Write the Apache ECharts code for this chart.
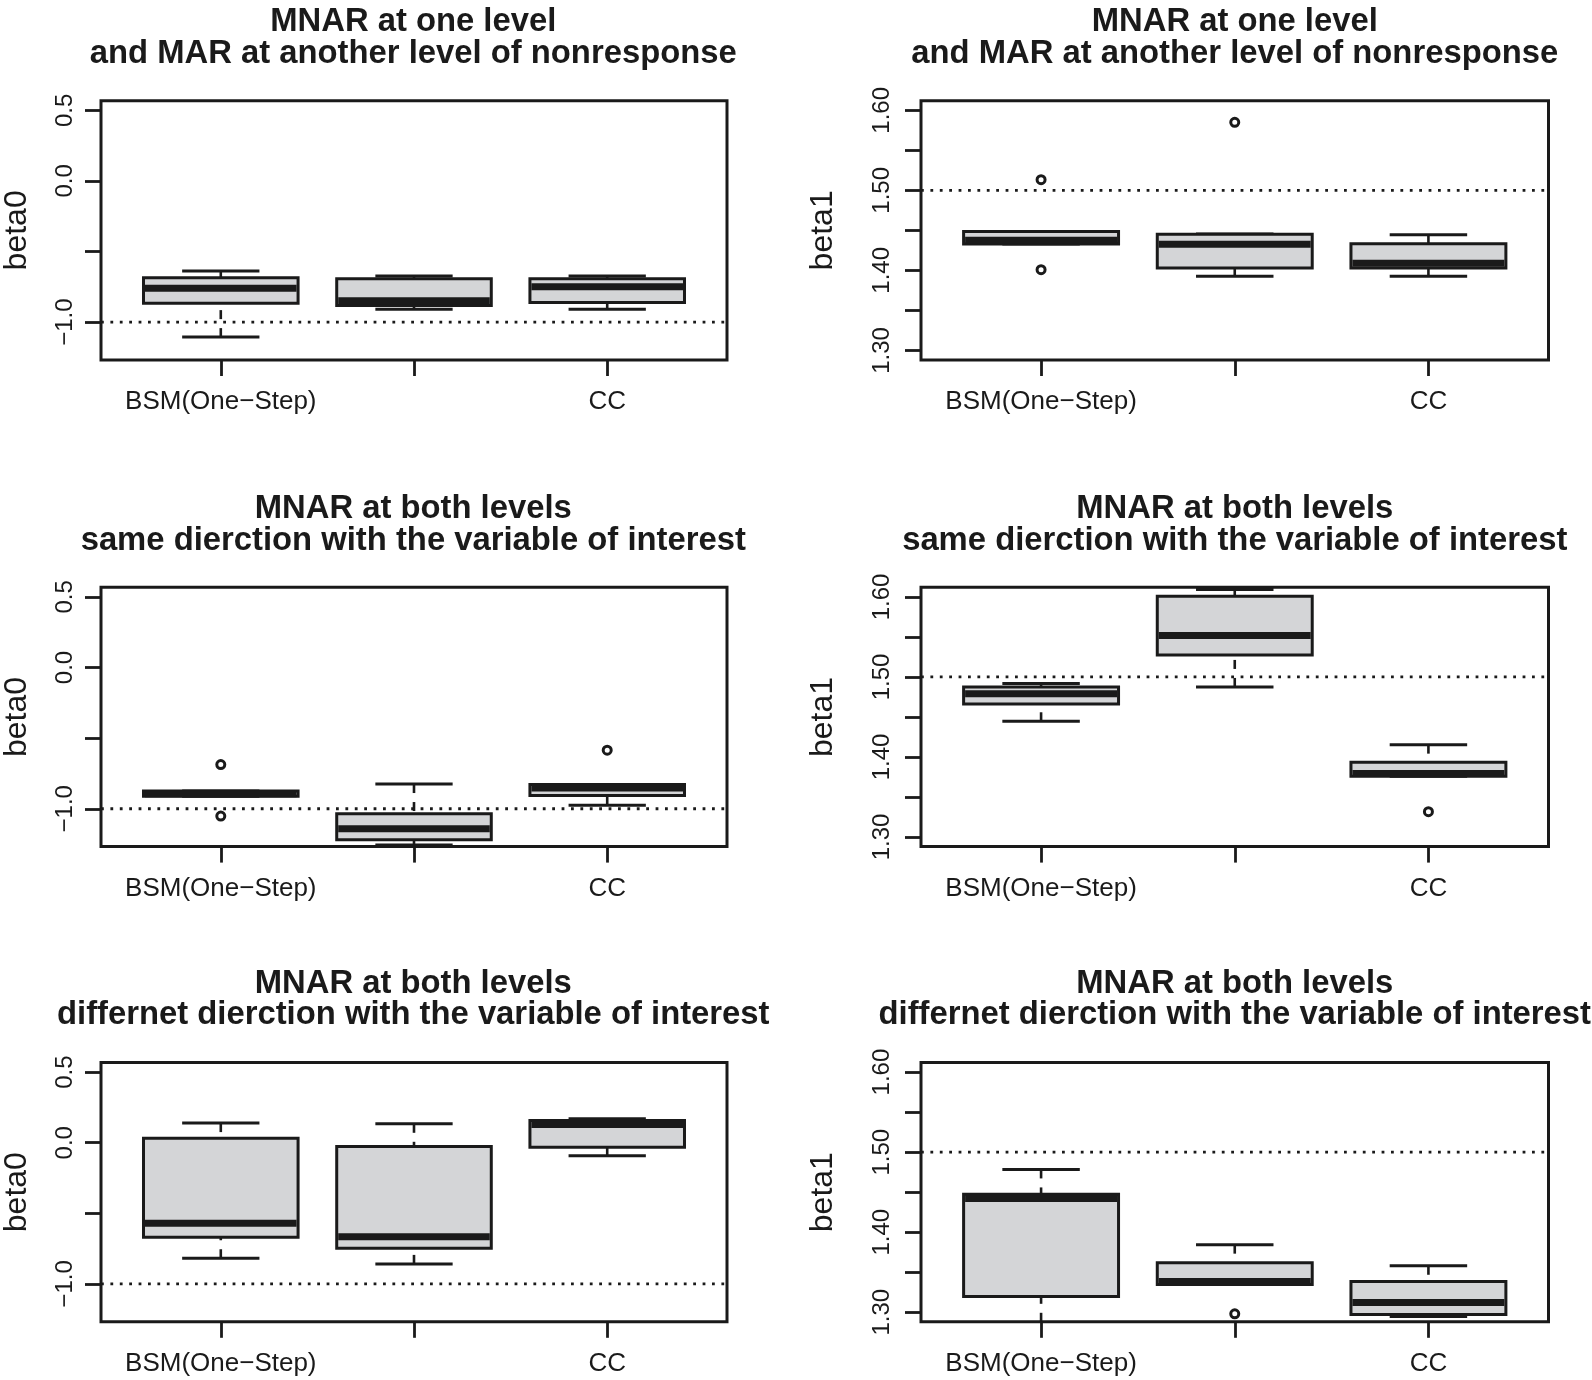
<!DOCTYPE html>
<html>
<head>
<meta charset="utf-8">
<script src="https://cdn.jsdelivr.net/npm/echarts@6/dist/echarts.min.js"></script>
<style>
html, body { margin: 0; padding: 0; background: #ffffff; }
#chart { width: 1592px; height: 1380px; }
</style>
</head>
<body>
<div id="chart"></div>
<script>
// ---------------- data ----------------
const categories = ['BSM(One\u2212Step)', '', 'CC'];
const categoryPositions = [1, 2, 3];

const titleOneLevel = 'MNAR at one level\nand MAR at another level of nonresponse';
const titleSameDir = 'MNAR at both levels\nsame dierction with the variable of interest';
const titleDiffDir = 'MNAR at both levels\ndiffernet dierction with the variable of interest';

// each box: [lower whisker, Q1, median, Q3, upper whisker]
const panel1Stats = [
  [-1.106, -0.866, -0.760, -0.685, -0.637],
  [-0.908, -0.882, -0.849, -0.692, -0.673],
  [-0.908, -0.861, -0.750, -0.692, -0.673]
];
const panel1Outliers = [];

const panel2Stats = [
  [1.4330, 1.4330, 1.4375, 1.4487, 1.4487],
  [1.3925, 1.4029, 1.4325, 1.4450, 1.4454],
  [1.3925, 1.4029, 1.4090, 1.4333, 1.4446]
];
const panel2Outliers = [[1, 1.5133], [1, 1.4008], [2, 1.5850]];

const panel3Stats = [
  [-0.912, -0.912, -0.893, -0.874, -0.874],
  [-1.256, -1.220, -1.142, -1.036, -0.825],
  [-0.976, -0.906, -0.853, -0.829, -0.829]
];
const panel3Outliers = [[1, -0.687], [1, -1.052], [3, -0.585]];

const panel4Stats = [
  [1.4446, 1.4663, 1.4790, 1.4875, 1.4917],
  [1.4875, 1.5275, 1.5517, 1.6008, 1.6092],
  [1.3760, 1.3760, 1.3792, 1.3933, 1.4154]
];
const panel4Outliers = [[3, 1.3317]];

const panel5Stats = [
  [-0.818, -0.669, -0.570, 0.032, 0.139],
  [-0.858, -0.747, -0.665, -0.027, 0.134],
  [-0.093, -0.032, 0.129, 0.158, 0.169]
];
const panel5Outliers = [];

const panel6Stats = [
  [1.2700, 1.3196, 1.4420, 1.4475, 1.4784],
  [1.3347, 1.3347, 1.3384, 1.3618, 1.3844],
  [1.2946, 1.2971, 1.3121, 1.3384, 1.3580]
];
const panel6Outliers = [[2, 1.2980]];

const beta0Range = [-1.268, 0.568];
const beta0Ticks = [-1.0, -0.5, 0.0, 0.5];
const beta0Labels = [-1.0, 0.0, 0.5];
const beta0Reference = -1.0;

const beta1Range = [1.288, 1.612];
const beta1Ticks = [1.30, 1.35, 1.40, 1.45, 1.50, 1.55, 1.60];
const beta1Labels = [1.30, 1.40, 1.50, 1.60];
const beta1Reference = 1.5;

const xRange = [0.38, 3.62];

// ---------------- layout / style ----------------
const FONT = "'Liberation Sans', Arial, Helvetica, sans-serif";
const INK = '#1a1a1a';
const FILL = '#d4d5d7';
const colLeft = [99.5, 921];
const colWidth = 627.5;
const rowTop = [100.7, 587.3, 1062.5];
const rowHeight = 259.3;
const titleTop = [6.5, 493.5, 968.2];
const labelMargin = [24, 27];
const nameGap = [68, 82];

const panels = [
  { stats: panel1Stats, outliers: panel1Outliers, title: titleOneLevel, beta: 0, row: 0, col: 0 },
  { stats: panel2Stats, outliers: panel2Outliers, title: titleOneLevel, beta: 1, row: 0, col: 1 },
  { stats: panel3Stats, outliers: panel3Outliers, title: titleSameDir, beta: 0, row: 1, col: 0 },
  { stats: panel4Stats, outliers: panel4Outliers, title: titleSameDir, beta: 1, row: 1, col: 1 },
  { stats: panel5Stats, outliers: panel5Outliers, title: titleDiffDir, beta: 0, row: 2, col: 0 },
  { stats: panel6Stats, outliers: panel6Outliers, title: titleDiffDir, beta: 1, row: 2, col: 1 }
];

function fmtBeta0(v) {
  const s = Math.abs(v).toFixed(1);
  return v < -1e-9 ? '\u2212' + s : s;
}
function fmtBeta1(v) { return v.toFixed(2); }

function boxRenderer(params, api) {
  const x = api.value(0);
  const lo = api.value(1), q1 = api.value(2), med = api.value(3), q3 = api.value(4), hi = api.value(5);
  const cs = params.coordSys;
  const yTop = cs.y, yBot = cs.y + cs.height;
  const clampY = y => Math.max(yTop, Math.min(yBot, y));
  const pq3 = api.coord([x - 0.4, q3]);
  const pq1 = api.coord([x + 0.4, q1]);
  const xl = pq3[0], xr = pq1[0];
  const yq3 = pq3[1], yq1 = pq1[1];
  const xc = api.coord([x, med])[0];
  const ymed = api.coord([x, med])[1];
  const capL = api.coord([x - 0.2, q1])[0];
  const capR = api.coord([x + 0.2, q1])[0];
  const yhi = api.coord([x, hi])[1];
  const ylo = api.coord([x, lo])[1];
  const children = [];
  const dashStyle = { stroke: INK, lineWidth: 2.6, lineDash: [9, 9], fill: null };
  const solid = { stroke: INK, lineWidth: 3, fill: null };
  children.push({ type: 'line', shape: { x1: xc, y1: clampY(yhi), x2: xc, y2: yq3 }, style: dashStyle });
  children.push({ type: 'line', shape: { x1: xc, y1: clampY(ylo), x2: xc, y2: yq1 }, style: dashStyle });
  if (yhi >= yTop) children.push({ type: 'line', shape: { x1: capL, y1: yhi, x2: capR, y2: yhi }, style: solid });
  if (ylo <= yBot) children.push({ type: 'line', shape: { x1: capL, y1: ylo, x2: capR, y2: ylo }, style: solid });
  children.push({ type: 'rect', shape: { x: xl, y: yq3, width: xr - xl, height: yq1 - yq3 },
                  style: { fill: FILL, stroke: INK, lineWidth: 3 } });
  children.push({ type: 'line', shape: { x1: xl + 1.5, y1: ymed, x2: xr - 1.5, y2: ymed },
                  style: { stroke: INK, lineWidth: 7, fill: null } });
  return { type: 'group', children: children };
}

const grids = [], xAxes = [], yAxes = [], series = [], titles = [];

panels.forEach((p, i) => {
  const isB0 = p.beta === 0;
  grids.push({
    left: colLeft[p.col], top: rowTop[p.row], width: colWidth, height: rowHeight,
    show: true, borderColor: INK, borderWidth: 3, backgroundColor: 'transparent',
    containLabel: false
  });
  xAxes.push({
    gridIndex: i, type: 'value', min: xRange[0], max: xRange[1], position: 'bottom',
    axisLine: { show: false, onZero: false }, splitLine: { show: false },
    axisTick: { show: true, length: 16, lineStyle: { color: INK, width: 2.8 }, customValues: categoryPositions },
    axisLabel: {
      show: true, margin: 29, fontSize: 26, fontFamily: FONT, color: INK,
      customValues: categoryPositions,
      formatter: v => categories[Math.round(v) - 1]
    }
  });
  yAxes.push({
    gridIndex: i, type: 'value', position: 'left',
    min: isB0 ? beta0Range[0] : beta1Range[0],
    max: isB0 ? beta0Range[1] : beta1Range[1],
    axisLine: { show: false, onZero: false }, splitLine: { show: false },
    axisTick: { show: true, length: 16, lineStyle: { color: INK, width: 2.8 },
                customValues: isB0 ? beta0Ticks : beta1Ticks },
    axisLabel: {
      show: true, rotate: 90, margin: labelMargin[p.col], fontSize: 24, fontFamily: FONT, color: INK,
      customValues: isB0 ? beta0Labels : beta1Labels,
      formatter: isB0 ? fmtBeta0 : fmtBeta1
    },
    name: isB0 ? 'beta0' : 'beta1',
    nameLocation: 'middle', nameRotate: 90, nameGap: nameGap[p.col],
    nameTextStyle: { fontSize: 32, fontFamily: FONT, color: INK }
  });
  titles.push({
    text: p.title,
    left: colLeft[p.col] + colWidth / 2, top: titleTop[p.row], textAlign: 'center', padding: 0,
    textStyle: { fontSize: 32.8, fontWeight: 'bold', fontFamily: FONT, color: INK, lineHeight: 31.5 }
  });
  series.push({
    type: 'custom', xAxisIndex: i, yAxisIndex: i,
    renderItem: boxRenderer,
    encode: { x: 0, y: [1, 2, 3, 4, 5] },
    data: p.stats.map((s, k) => [categoryPositions[k]].concat(s)),
    silent: true, z: 2
  });
  series.push({
    type: 'scatter', xAxisIndex: i, yAxisIndex: i,
    data: p.outliers,
    symbol: 'circle', symbolSize: 8,
    itemStyle: { color: '#ffffff', borderColor: INK, borderWidth: 3, opacity: 1 },
    silent: true, z: 3
  });
  const ref = isB0 ? beta0Reference : beta1Reference;
  series.push({
    type: 'line', xAxisIndex: i, yAxisIndex: i,
    data: [[xRange[0], ref], [xRange[1], ref]],
    showSymbol: false, symbol: 'none',
    lineStyle: { color: INK, width: 2.8, type: [2.8, 6.6] },
    silent: true, z: 4
  });
});

const chart = echarts.init(document.getElementById('chart'), null, { renderer: 'canvas' });
chart.setOption({
  backgroundColor: '#ffffff',
  animation: false,
  title: titles,
  grid: grids,
  xAxis: xAxes,
  yAxis: yAxes,
  series: series
});
</script>
</body>
</html>
